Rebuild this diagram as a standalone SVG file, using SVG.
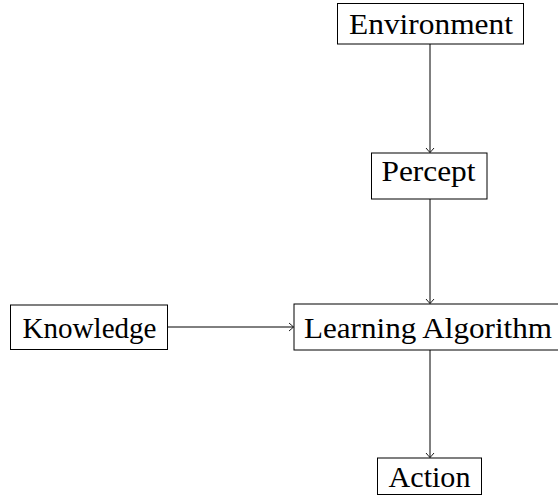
<svg xmlns="http://www.w3.org/2000/svg" width="558" height="498" viewBox="0 0 558 498">
  <style>
    .box { fill: #fff; stroke: #000; stroke-width: 1; }
    .lbl { font-family: "Liberation Serif", "DejaVu Serif", serif; font-size: 30px; fill: #000; text-anchor: middle; }
    .edge { fill: none; stroke: #000; stroke-width: 1; }
  </style>
  <defs>
    <marker id="to" viewBox="-6 -5 8 10" refX="0" refY="0" markerWidth="8" markerHeight="10" markerUnits="userSpaceOnUse" orient="auto">
      <path d="M -4.5 -4 Q -1 -1 0 0 Q -1 1 -4.5 4" fill="none" stroke="#000" stroke-width="0.9"/>
    </marker>
  </defs>

  <g id="connectors">
    <line class="edge" x1="430" y1="44" x2="430" y2="152.5" marker-end="url(#to)"/>
    <line class="edge" x1="430" y1="199" x2="430" y2="303.5" marker-end="url(#to)"/>
    <line class="edge" x1="430" y1="350" x2="430" y2="457.5" marker-end="url(#to)"/>
    <line class="edge" x1="167.5" y1="327" x2="293.5" y2="327" marker-end="url(#to)"/>
  </g>

  <g id="environment">
    <rect class="box" x="337.5" y="3.5" width="186" height="40.5"/>
    <text class="lbl" x="431" y="34" textLength="164" lengthAdjust="spacingAndGlyphs">Environment</text>
  </g>

  <g id="percept">
    <rect class="box" x="371.5" y="153" width="115.5" height="46"/>
    <text class="lbl" x="428.5" y="181" textLength="94" lengthAdjust="spacingAndGlyphs">Percept</text>
  </g>

  <g id="knowledge">
    <rect class="box" x="10.5" y="305" width="157" height="44.5"/>
    <text class="lbl" x="89.5" y="337.5" textLength="134" lengthAdjust="spacingAndGlyphs">Knowledge</text>
  </g>

  <g id="learning-algorithm">
    <rect class="box" x="294" y="304" width="272" height="46"/>
    <text class="lbl" x="428" y="337.5" textLength="248" lengthAdjust="spacingAndGlyphs">Learning Algorithm</text>
  </g>

  <g id="action">
    <rect class="box" x="377.5" y="458" width="104" height="36.5"/>
    <text class="lbl" x="429.5" y="486.5" textLength="82" lengthAdjust="spacingAndGlyphs">Action</text>
  </g>
</svg>
